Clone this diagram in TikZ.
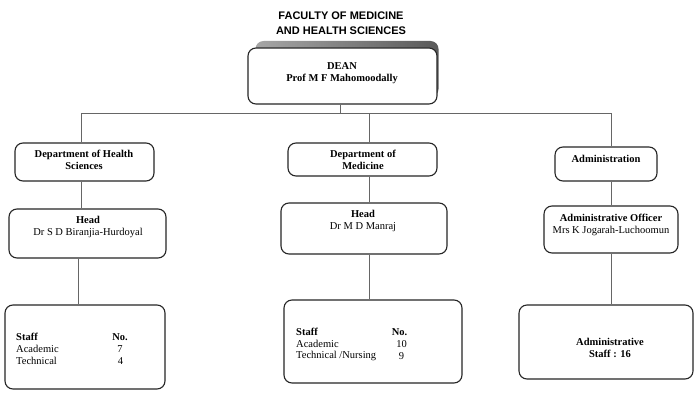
\documentclass[tikz,border=0pt]{standalone}
\usepackage{fontspec}
\setmainfont{Liberation Serif}
\newfontfamily\titlefont{Liberation Sans}
\begin{document}
\begin{tikzpicture}[x=1pt,y=-1pt,
  box/.style={draw=black!85, line width=1.1pt, rounded corners=8pt, inner sep=0pt},
  conn/.style={draw=black!60, line width=0.8pt},
  lbl/.style={font=\fontsize{10.5}{12}\selectfont, align=center, inner sep=0pt},
  cell/.style={font=\fontsize{10.5}{12}\selectfont, inner sep=0pt, anchor=west},
  num/.style={font=\fontsize{10.5}{12}\selectfont, inner sep=0pt}]
\useasboundingbox (0,0) rectangle (700,404);
\fill[white] (0,0) rectangle (700,404);
% title
\node[font=\titlefont\bfseries\fontsize{11}{14.5}\selectfont, align=center, inner sep=0pt] (title) at (341,23) {FACULTY OF MEDICINE\\AND HEALTH SCIENCES};
% dean with shadow
\node[box, draw=none, left color=black!35, right color=black!65, minimum width=183pt, minimum height=56pt] (deanshadow) at (347,69) {};
\node[box, fill=white, minimum width=189pt, minimum height=56pt] (dean) at (342.5,76) {};
\node[lbl] (deantext) at (342,73.5) {\textbf{DEAN}\\\textbf{Prof M F Mahomoodally}};
% department boxes
\node[box, minimum width=139pt, minimum height=38pt] (dH) at (84.5,162) {};
\node[box, minimum width=157pt, minimum height=49pt] (hH) at (87.5,233.5) {};
\node[box, minimum width=160pt, minimum height=84pt] (sH) at (85,347) {};
\node[box, minimum width=149pt, minimum height=33pt] (dM) at (362.5,159.5) {};
\node[box, minimum width=166pt, minimum height=51pt] (hM) at (364,228.5) {};
\node[box, minimum width=178pt, minimum height=83pt] (sM) at (373,341.5) {};
\node[box, minimum width=102pt, minimum height=34pt] (dA) at (606,164) {};
\node[box, minimum width=134pt, minimum height=47pt] (hA) at (611,229.5) {};
\node[box, minimum width=174pt, minimum height=74pt] (sA) at (606,342) {};
% texts
\node[lbl] (tdH) at (84,160) {\textbf{Department of Health}\\\textbf{Sciences}};
\node[lbl] (thH) at (88,227) {\textbf{Head}\\Dr S D Biranjia-Hurdoyal};
\node[lbl] (tdM) at (363,159.5) {\textbf{Department of}\\\textbf{Medicine}};
\node[lbl] (thM) at (363,221) {\textbf{Head}\\Dr M D Manraj};
\node[lbl] (tdA) at (606,159) {\textbf{Administration}};
\node[lbl] (thA) at (611,225) {\textbf{Administrative Officer}\\Mrs K Jogarah-Luchoomun};
\node[lbl] (tsA) at (610,347.5) {\textbf{Administrative}\\\textbf{Staff : 16}};
% staff tables
\node[cell] (sH1) at (16,337) {\textbf{Staff}};
\node[cell] (sH2) at (16,349) {Academic};
\node[cell] (sH3) at (16,361) {Technical};
\node[num] (nH1) at (120,337) {\textbf{No.}};
\node[num] (nH2) at (120,349) {7};
\node[num] (nH3) at (120.5,361) {4};
\node[cell] (sM1) at (296,332) {\textbf{Staff}};
\node[cell] (sM2) at (296,344) {Academic};
\node[cell] (sM3) at (296,356) {Technical /Nursing};
\node[num] (nM1) at (399.5,332) {\textbf{No.}};
\node[num] (nM2) at (401.5,344) {10};
\node[num] (nM3) at (401.5,356) {9};
% connectors
\coordinate (jL) at (81,113);
\coordinate (jM) at (369.5,113);
\coordinate (jR) at (611.5,113);
\coordinate (jD) at (340,113);
\draw[conn] (jL) -- (jR);
\draw[conn] (jD |- dean.south) -- (jD);
\draw[conn] (jL) -- (jL |- dH.north);
\draw[conn] (jL |- dH.south) -- (jL |- hH.north);
\coordinate (jL2) at (78,0);
\draw[conn] (jL2 |- hH.south) -- (jL2 |- sH.north);
\draw[conn] (jM) -- (jM |- dM.north);
\draw[conn] (jM |- dM.south) -- (jM |- hM.north);
\draw[conn] (jM |- hM.south) -- (jM |- sM.north);
\draw[conn] (jR) -- (jR |- dA.north);
\draw[conn] (jR |- dA.south) -- (jR |- hA.north);
\draw[conn] (jR |- hA.south) -- (jR |- sA.north);
\end{tikzpicture}
\end{document}
